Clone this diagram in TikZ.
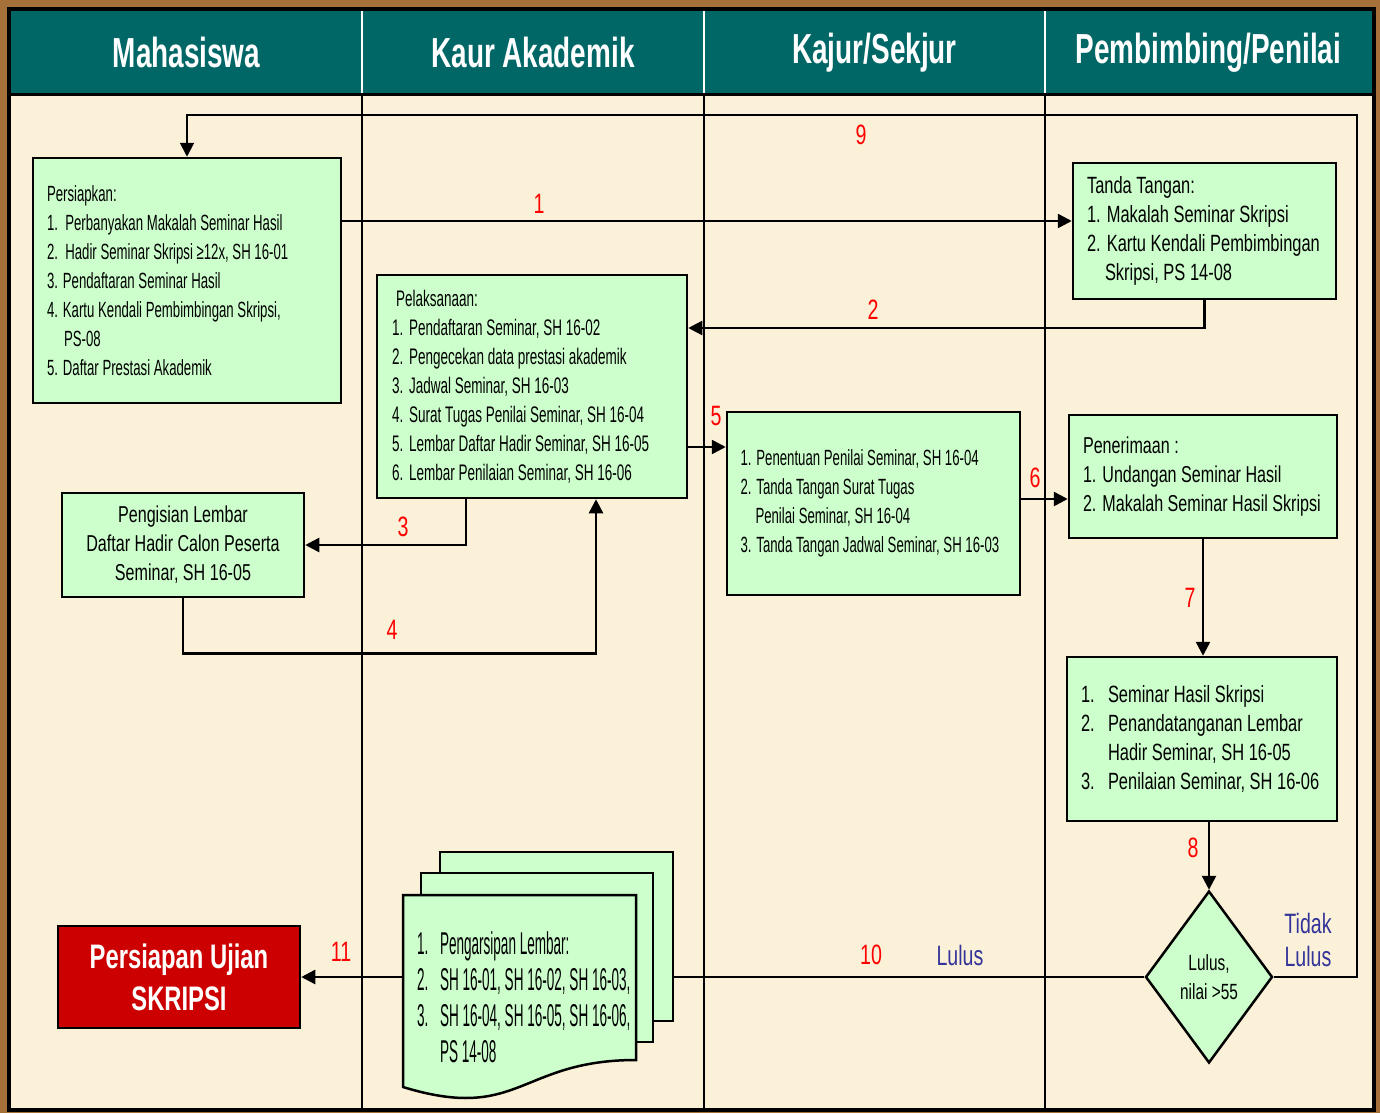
\documentclass[tikz,border=0pt]{standalone}
\usepackage{fontspec}
\setmainfont{Liberation Sans}[FakeStretch=0.7]
\newfontfamily\narrowfont{Liberation Sans}[FakeStretch=0.6]
\newfontfamily\headfont{Liberation Sans}[FakeStretch=0.665]
\newfontfamily\docfont{Liberation Sans}[FakeStretch=0.43]
\usetikzlibrary{positioning, calc, shapes.geometric, arrows.meta}
\definecolor{wood}{RGB}{165,112,58}
\definecolor{cream}{RGB}{251,241,216}
\definecolor{headteal}{RGB}{0,102,102}
\definecolor{boxgreen}{RGB}{204,255,204}
\definecolor{boxred}{RGB}{204,0,0}
\definecolor{lulusblue}{RGB}{51,51,153}

\begin{document}
\begin{tikzpicture}[x=1pt, y=1pt,
		head/.style={fill=headteal, text=white, minimum height=83, inner sep=0pt, font=\headfont\bfseries\fontsize{42}{50}\selectfont},
		box/.style={draw, line width=2.5pt, fill=boxgreen, inner sep=0pt, align=flush left},
		sheet/.style={draw, line width=2.5pt, fill=boxgreen},
		num/.style={text=red, inner sep=0pt, font=\fontsize{28}{30}\selectfont},
		arr/.style={line width=2.5pt, -{Triangle[length=14pt,width=14pt]}},
		lane/.style={line width=2pt}]
			\useasboundingbox (0,0) rectangle (1380,-1113);
			\fill[wood] (0,0) rectangle (1380,-1113);
			\fill[cream] (9,-9) rectangle (1374,-1110);
			
			\node (h1) [head, minimum width=351] at (186.5,-52.5) {Mahasiswa};
			\node (h2) [head, minimum width=342] at (533,-52.5) {Kaur Akademik};
			\node (h3) [head, minimum width=341] at (874.5,-52.5) {Kajur/Sekjur};
			\node (h4) [head, minimum width=327] at (1208.5,-52.5) {Pembimbing/Penilai};
			\draw [white, line width=2pt] (h1.north east) -- (h1.south east);
			\draw [white, line width=2pt] (h2.north east) -- (h2.south east);
			\draw [white, line width=2pt] (h3.north east) -- (h3.south east);
			\draw [lane] (h1.south east) -- (h1.south east |- 0,-1110);
			\draw [lane] (h2.south east) -- (h2.south east |- 0,-1110);
			\draw [lane] (h3.south east) -- (h3.south east |- 0,-1110);
			\draw [line width=3pt] (h1.south west) -- (h4.south east);
			
			\node (n1) [box, minimum width=308, minimum height=245, text width=280, font=\narrowfont\fontsize{22}{29}\selectfont] at (187,-280.5) {Persiapkan:\\1.\ \ Perbanyakan Makalah Seminar Hasil\\2.\ \ Hadir Seminar Skripsi ≥12x, SH 16-01\\3. Pendaftaran Seminar Hasil\\4. Kartu Kendali Pembimbingan Skripsi,\\\hspace*{17pt}PS-08\\5. Daftar Prestasi Akademik};
			\node (n2) [box, minimum width=263, minimum height=136, text width=235, font=\fontsize{23.5}{29}\selectfont] at (1204.5,-231) {Tanda Tangan:\\1. Makalah Seminar Skripsi\\2. Kartu Kendali Pembimbingan\\\hspace*{18pt}Skripsi, PS 14-08};
			\node (n3) [box, minimum width=310, minimum height=223, text width=280, font=\narrowfont\fontsize{22.5}{29}\selectfont] at (532,-386.5) {\hspace*{4pt}Pelaksanaan:\\\makebox[17pt][l]{1.}Pendaftaran Seminar, SH 16-02\\\makebox[17pt][l]{2.}Pengecekan data prestasi akademik\\\makebox[17pt][l]{3.}Jadwal Seminar, SH 16-03\\\makebox[17pt][l]{4.}Surat Tugas Penilai Seminar, SH 16-04\\\makebox[17pt][l]{5.}Lembar Daftar Hadir Seminar, SH 16-05\\\makebox[17pt][l]{6.}Lembar Penilaian Seminar, SH 16-06};
			\node (n4) [box, align=flush center, minimum width=242, minimum height=104, text width=230, font=\fontsize{23}{29}\selectfont] at (183,-545) {Pengisian Lembar\\Daftar Hadir Calon Peserta\\Seminar, SH 16-05};
			\node (n5) [box, minimum width=293, minimum height=183, text width=266, font=\narrowfont\fontsize{22}{29}\selectfont] at (873.5,-503.5) {1. Penentuan Penilai Seminar, SH 16-04\\2. Tanda Tangan Surat Tugas\\\hspace*{15pt}Penilai Seminar, SH 16-04\\3. Tanda Tangan Jadwal Seminar, SH 16-03};
			\node (n6) [box, minimum width=268, minimum height=123, text width=240, font=\fontsize{23}{29}\selectfont] at (1203,-476.5) {Penerimaan :\\1. Undangan Seminar Hasil\\2. Makalah Seminar Hasil Skripsi};
			\node (n7) [box, minimum width=270, minimum height=164, text width=242, font=\fontsize{23.5}{29}\selectfont] at (1202,-739) {\makebox[27pt][l]{1.}Seminar Hasil Skripsi\\\makebox[27pt][l]{2.}Penandatanganan Lembar\\\hspace*{27pt}Hadir Seminar, SH 16-05\\\makebox[27pt][l]{3.}Penilaian Seminar, SH 16-06};
			\node (n8) [box, shape=diamond, align=center, minimum width=127, minimum height=172, font=\fontsize{22}{29}\selectfont] at (1209,-977) {Lulus,\\nilai >55};
			\node (n9) [draw, line width=2.5pt, fill=boxred, text=white, align=center, minimum width=242, minimum height=102, inner sep=0pt, font=\bfseries\fontsize{34}{42}\selectfont] at (179,-977) {Persiapan Ujian\\SKRIPSI};
			
			\node (d3) [sheet, minimum width=233, minimum height=169] at (556.5,-936.5) {};
			\node (d2) [sheet, minimum width=232, minimum height=169] at (537,-957.5) {};
			\draw [sheet] (403,-895) -- (636,-895) -- (636,-1060) .. controls (519.5,-1060) and (519.5,-1122.7) .. (403,-1087) -- cycle;
			\node (d1) [align=flush left, inner sep=0pt, minimum width=243, minimum height=204, text width=215, font=\docfont\fontsize{31.5}{36}\selectfont] at (524.5,-997) {\makebox[23pt][l]{1.}Pengarsipan Lembar:\\\makebox[23pt][l]{2.}SH 16-01, SH 16-02, SH 16-03,\\\makebox[23pt][l]{3.}SH 16-04, SH 16-05, SH 16-06,\\\hspace*{23pt}PS 14-08};
			
			\coordinate (c1) at ($(n1.east)+(0,59.5)$);
			\draw [arr] (c1) -- (c1 -| n2.west);
			\draw [arr] (n2.south) |- ($(n3.east)+(0,58.5)$);
			\draw [arr] ($(n3.south)+(-66,0)$) |- (n4.east);
			\draw [arr] (n4.south) -- ++(0,-55) -| ($(n3.south)+(64,0)$);
			\coordinate (c5) at ($(n3.east)+(0,-60.5)$);
			\draw [arr] (c5) -- (c5 -| n5.west);
			\coordinate (c6) at ($(n5.east)+(0,4.5)$);
			\draw [arr] (c6) -- (c6 -| n6.west);
			\draw [arr] (n6.south) -- (n6.south |- n7.north);
			\draw [arr] (n8.north |- n7.south) -- (n8.north);
			\coordinate (c9) at (1357,-115);
			\draw [line width=2pt, -{Triangle[length=14pt,width=14pt]}] (n8.east) -| (c9) -| (n1.north);
			\draw [line width=2.5pt] (n8.west) -- (n8.west -| d3.east);
			\draw [arr] (d1.west |- n9.east) -- (n9.east);
			
			\node (l1) [num] at (539,-204) {1};
			\node (l2) [num] at (873,-310) {2};
			\node (l3) [num] at (403,-527) {3};
			\node (l4) [num] at (392,-630) {4};
			\node (l5) [num] at (716,-416) {5};
			\node (l6) [num] at (1035,-478) {6};
			\node (l7) [num] at (1190,-598) {7};
			\node (l8) [num] at (1193,-848) {8};
			\node (l9) [num] at (861,-135) {9};
			\node (l10) [num] at (871,-955) {10};
			\node (l11) [num] at (341,-952) {11};
			\node (lulus) [text=lulusblue, font=\fontsize{28}{33}\selectfont] at (960,-955) {Lulus};
			\node (tidak) [text=lulusblue, align=center, font=\fontsize{28}{33}\selectfont] at (1308,-940) {Tidak\\Lulus};
			
			\draw [line width=4.5pt] (9,-9) rectangle (1374,-1110);
		\end{tikzpicture}
\end{document}
